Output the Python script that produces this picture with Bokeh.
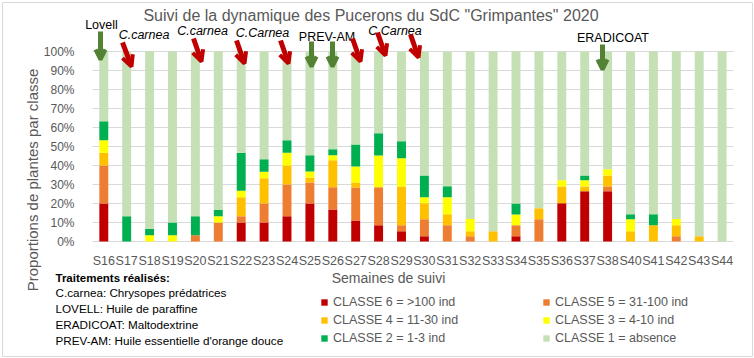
from bokeh.plotting import figure
from bokeh.models import (Range1d, FixedTicker, PrintfTickFormatter, Label, Legend,
                          LegendItem, Arrow, OpenHead, ColumnDataSource)
from bokeh.embed import file_html
from bokeh.resources import INLINE

# ---------------- data (percent of plants per class) ----------------
weeks = ["S16", "S17", "S18", "S19", "S20", "S21", "S22", "S23", "S24", "S25", "S26", "S27",
         "S28", "S29", "S30", "S31", "S32", "S33", "S34", "S35", "S36", "S37", "S38",
         "S40", "S41", "S42", "S43", "S44"]
classe6 = [20, 0, 0, 0, 0, 0, 10, 10, 13.3, 20, 16.9, 11.1, 8.5, 5.4, 2.7, 0, 0, 0, 2.7, 0,
           20.1, 26.4, 26.4, 0, 0, 0, 0, 0]
classe5 = [20, 0, 0, 0, 3.3, 10, 3.3, 10, 16.7, 11.1, 11.6, 17.3, 20, 3.1, 9, 8.6, 2.8, 0, 5.8,
           11.7, 0, 0, 2.6, 0, 0, 2.8, 0, 0]
classe4 = [6.7, 0, 0, 0, 0, 0, 10, 13.3, 10, 2.6, 14.2, 2.7, 0, 20.5, 8.4, 5.8, 2.6, 5.4, 0,
           5.8, 8.9, 2.6, 5.8, 5.4, 8.5, 5.7, 2.8, 0]
classe3 = [6.6, 0, 3.3, 3.3, 0, 3.3, 3.4, 3.4, 6.7, 3.1, 2.7, 8.4, 16.8, 14.8, 3.2, 8.9, 6.4, 0,
           5.7, 0, 3.2, 3.2, 3.2, 6.3, 0, 3.3, 0, 0]
classe2 = [10, 13.3, 3.4, 6.7, 10, 3.4, 20, 6.6, 6.6, 8.6, 3.1, 11.6, 11.7, 8.9, 11.5, 5.8, 0, 0,
           5.8, 0, 0, 2.6, 0, 2.6, 5.8, 0, 0, 0]
classe1 = [36.7, 86.7, 93.3, 90, 86.7, 83.3, 53.3, 56.7, 46.7, 54.6, 51.5, 48.9, 43.0, 47.3, 65.2,
           70.9, 88.2, 94.6, 80, 82.5, 67.8, 65.2, 62, 85.7, 85.7, 88.2, 97.2, 100]
class_labels = ["CLASSE 6 = >100 ind", "CLASSE 5 = 31-100 ind", "CLASSE 4 = 11-30 ind",
                "CLASSE 3 = 4-10 ind", "CLASSE 2 = 1-3 ind", "CLASSE 1 = absence"]
y_ticks = [0, 10, 20, 30, 40, 50, 60, 70, 80, 90, 100]

title_text = 'Suivi de la dynamique des Pucerons du SdC "Grimpantes" 2020'
treatments = ["C.carnea: Chrysopes prédatrices", "LOVELL: Huile de paraffine",
              "ERADICOAT: Maltodextrine", "PREV-AM: Huile essentielle d'orange douce"]

# ---------------- style / layout ----------------
colors = ["#C00000", "#ED7D31", "#FFC000", "#FFFF00", "#00B050", "#C5E0B4"]
FONT = "Liberation Sans"
GRAY = "#595959"

# page-pixel -> data helpers (layout only)
PX0, DPX = 103.3, 22.9   # page x of first category centre, px per category
PY0, DPY = 241.0, 1.9    # page y of 0 %, px per percent
def dx(px):
    return (px - PX0) / DPX
def dy(py):
    return (PY0 - py) / DPY

W, H = 753, 357
p = figure(width=W, height=H, output_backend="svg", toolbar_location=None,
           x_range=Range1d(dx(2), dx(W)), y_range=Range1d(dy(H), dy(2)),
           min_border_left=2, min_border_right=0, min_border_top=2, min_border_bottom=0)
p.outline_line_color = "#D9D9D9"
p.background_fill_color = "white"
p.border_fill_color = "white"
p.grid.visible = False

# horizontal grid lines across the plot area
p.segment(x0=dx(92), x1=dx(733), y0=y_ticks, y1=y_ticks, line_color="#D9D9D9", line_width=1)

xs = list(range(len(weeks)))
src = ColumnDataSource(dict(x=xs, c6=classe6, c5=classe5, c4=classe4, c3=classe3,
                            c2=classe2, c1=classe1))
renderers = p.vbar_stack(["c6", "c5", "c4", "c3", "c2", "c1"], x="x", width=0.39,
                         color=colors, line_width=0, source=src)

# axes (drawn at fixed locations inside the canvas)
p.xaxis.fixed_location = 0
p.xaxis.ticker = FixedTicker(ticks=xs)
p.xaxis.major_label_overrides = {i: w for i, w in enumerate(weeks)}
p.xaxis.major_tick_line_color = None
p.xaxis.minor_tick_line_color = None
p.xaxis.axis_line_color = None
p.xaxis.major_label_text_font = FONT
p.xaxis.major_label_text_font_size = "12.5px"
p.xaxis.major_label_text_color = GRAY
p.xaxis.major_label_standoff = 6

p.yaxis.fixed_location = dx(92)
p.yaxis.ticker = FixedTicker(ticks=y_ticks)
p.yaxis.formatter = PrintfTickFormatter(format="%d%%")
p.yaxis.major_tick_line_color = None
p.yaxis.minor_tick_line_color = None
p.yaxis.axis_line_color = None
p.yaxis.major_label_text_font = FONT
p.yaxis.major_label_text_font_size = "12px"
p.yaxis.major_label_text_color = GRAY
p.yaxis.major_label_standoff = 12
p.yaxis.axis_label = "Proportions de plantes par classe"
p.yaxis.axis_label_text_font = FONT
p.yaxis.axis_label_text_font_size = "15px"
p.yaxis.axis_label_text_font_style = "normal"
p.yaxis.axis_label_text_color = GRAY
p.yaxis.axis_label_standoff = 0

# title
p.add_layout(Label(x=dx(370.5), y=dy(15), text=title_text, text_align="center",
                   text_baseline="middle", text_font=FONT, text_font_size="16px",
                   text_color=GRAY))
# x axis title
p.add_layout(Label(x=dx(388), y=dy(277), text="Semaines de suivi", text_align="center",
                   text_baseline="middle", text_font=FONT, text_font_size="14px",
                   text_color=GRAY))

# treatments block
p.add_layout(Label(x=dx(55), y=dy(277), text="Traitements réalisés:", text_align="left",
                   text_baseline="middle", text_font=FONT, text_font_size="11.5px",
                   text_font_style="bold", text_color="black"))
for k, t in enumerate(treatments):
    p.add_layout(Label(x=dx(55), y=dy(292 + 16 * k), text=t, text_align="left",
                       text_baseline="middle", text_font=FONT, text_font_size="11.7px",
                       text_color="black"))

# annotation texts
ann = [("Lovell", 101, 24, "normal"), ("C.carnea", 143.5, 34, "italic"),
       ("C.carnea", 202, 30, "italic"), ("C.Carnea", 262, 32, "italic"),
       ("PREV-AM", 326.5, 36, "normal"), ("C.Carnea", 394.5, 30, "italic"),
       ("ERADICOAT", 612.5, 37, "normal")]
for t, x, y, st in ann:
    p.add_layout(Label(x=dx(x), y=dy(y), text=t, text_align="center", text_baseline="middle",
                       text_font=FONT, text_font_size="12.5px", text_font_style=st,
                       text_color="black"))

green_arrows = [(100, 31, 100, 59), (311, 41, 311, 66), (332, 41, 332, 66), (602, 44, 602, 69)]
red_arrows = [(122, 42, 131, 66), (193, 38, 201, 61), (236, 40, 244, 63), (280, 40, 288, 63),
              (352, 38, 360, 61), (377, 32, 385, 55), (410, 34, 418, 57)]
for arrows, col, hs in ((green_arrows, "#548235", 10), (red_arrows, "#C00000", 11)):
    for x0, y0, x1, y1 in arrows:
        p.add_layout(Arrow(end=OpenHead(size=hs, line_color=col, line_width=4),
                           x_start=dx(x0), y_start=dy(y0), x_end=dx(x1), y_end=dy(y1),
                           line_color=col, line_width=5))

# legends (two columns)
def make_legend(idx, vx):
    leg = Legend(items=[LegendItem(label=class_labels[i], renderers=[renderers[i]]) for i in idx],
                 location=(vx, H - 345), orientation="vertical",
                 glyph_width=8, glyph_height=8, label_height=14, spacing=4,
                 label_standoff=5, padding=0, margin=0, border_line_color=None,
                 background_fill_alpha=0, label_text_font=FONT,
                 label_text_font_size="12.5px", label_text_color=GRAY)
    p.add_layout(leg, "center")

make_legend([0, 2, 4], 318)
make_legend([1, 3, 5], 540)

open("out.html", "w").write(file_html(p, INLINE))
